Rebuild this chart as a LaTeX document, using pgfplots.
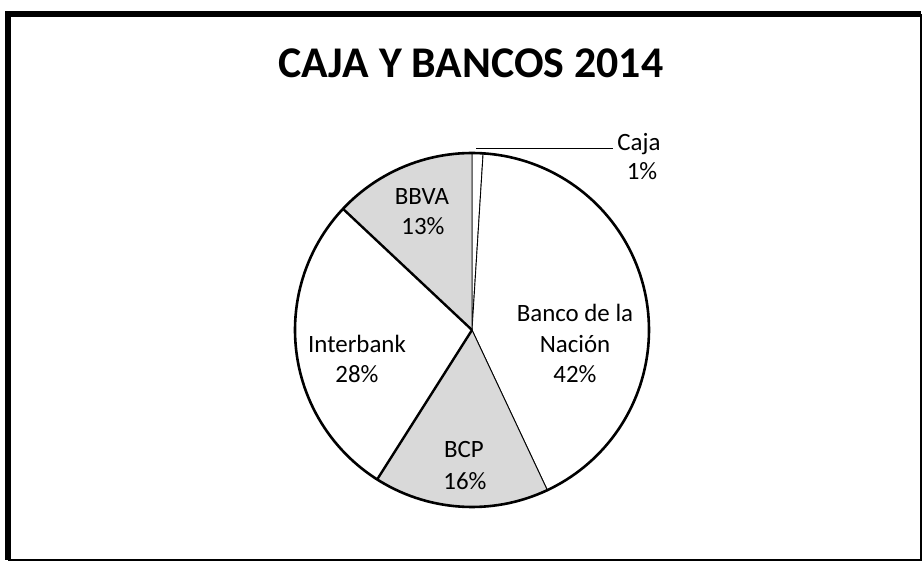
\documentclass[border=0pt]{standalone}
\usepackage{pgfplots}
\usepackage{pgfplotstable}
\usepackage{fontspec}
\setmainfont{Carlito}
\pgfplotsset{compat=1.18}

% slices in Excel order, clockwise from 12 o'clock
\pgfplotstableread{
label pct
Caja 1
Nacion 42
BCP 16
Interbank 28
BBVA 13
}\piedata

\newcommand\getpct[2]{\pgfplotstablegetelem{#1}{pct}\of\piedata\global\let#2\pgfplotsretval}

\begin{document}
\begin{tikzpicture}[
    slice/.style={draw=black, line width=0.9bp},
    lbl/.style={font=\fontsize{25}{30}\selectfont, anchor=base, inner sep=0pt},
  ]
  \getpct{0}\pA \getpct{1}\pB \getpct{2}\pC \getpct{3}\pD \getpct{4}\pE
  \pgfmathsetmacro\aA{90}
  \pgfmathsetmacro\aB{\aA-3.6*\pA}
  \pgfmathsetmacro\aC{\aB-3.6*\pB}
  \pgfmathsetmacro\aD{\aC-3.6*\pC}
  \pgfmathsetmacro\aE{\aD-3.6*\pD}
  \pgfmathsetmacro\aF{\aE-3.6*\pE}
  \def\cx{472}\def\cy{234}\def\rr{177}
  \begin{axis}[
      at={(0,0)}, anchor=origin,
      x=1bp, y=1bp,
      xmin=0, xmax=924, ymin=0, ymax=564,
      hide axis, clip=false,
      samples=120, variable=\t,
    ]
    % slices
    \addplot[slice, fill=white, domain=\aB:\aA]
      ({\cx+\rr*cos(t)},{\cy+\rr*sin(t)}) -- (axis cs:\cx,\cy) -- cycle;
    \addplot[slice, fill=white, domain=\aC:\aB]
      ({\cx+\rr*cos(t)},{\cy+\rr*sin(t)}) -- (axis cs:\cx,\cy) -- cycle;
    \addplot[slice, fill=black!15, domain=\aD:\aC]
      ({\cx+\rr*cos(t)},{\cy+\rr*sin(t)}) -- (axis cs:\cx,\cy) -- cycle;
    \addplot[slice, fill=white, domain=\aE:\aD]
      ({\cx+\rr*cos(t)},{\cy+\rr*sin(t)}) -- (axis cs:\cx,\cy) -- cycle;
    \addplot[slice, fill=black!15, domain=\aF:\aE]
      ({\cx+\rr*cos(t)},{\cy+\rr*sin(t)}) -- (axis cs:\cx,\cy) -- cycle;
    % heavy outline and heavy radii
    \addplot[line width=2.6bp, domain=0:360, samples=200]
      ({\cx+\rr*cos(t)},{\cy+\rr*sin(t)});
    \addplot[line width=2.4bp, domain=0:\rr, samples=2]
      ({\cx+t*cos(\aD)},{\cy+t*sin(\aD)});
    \addplot[line width=2.4bp, domain=0:\rr, samples=2]
      ({\cx+t*cos(\aE)},{\cy+t*sin(\aE)});
    % leader for Caja
    \draw[line width=1bp] (axis cs:476,415) -- (axis cs:613,415);
    % labels
    \node[lbl] at (axis cs:639,413) {Caja};
    \node[lbl] at (axis cs:642,384) {\pA\%};
    \node[lbl] at (axis cs:422,359) {BBVA};
    \node[lbl] at (axis cs:423,329) {\pE\%};
    \node[lbl] at (axis cs:575,242) {Banco de la};
    \node[lbl] at (axis cs:575,211) {Nación};
    \node[lbl] at (axis cs:575,181) {\pB\%};
    \node[lbl] at (axis cs:357,211) {Interbank};
    \node[lbl] at (axis cs:357,181) {\pD\%};
    \node[lbl] at (axis cs:464,106) {BCP};
    \node[lbl] at (axis cs:465,74) {\pC\%};
    % title
    \node[anchor=base, inner sep=0pt, font=\fontsize{44}{52}\selectfont\bfseries]
      at (axis cs:471,486) {CAJA Y BANCOS 2014};
  \end{axis}
  % frame
  \draw[line width=6bp] (8bp,4bp) -- (8bp,550bp) -- (921bp,550bp);
  \draw[line width=2.5bp] (8bp,4bp) -- (921bp,4bp) -- (921bp,550bp);
  \pgfresetboundingbox
  \path[use as bounding box] (0,0) rectangle (924bp,564bp);
\end{tikzpicture}
\end{document}
